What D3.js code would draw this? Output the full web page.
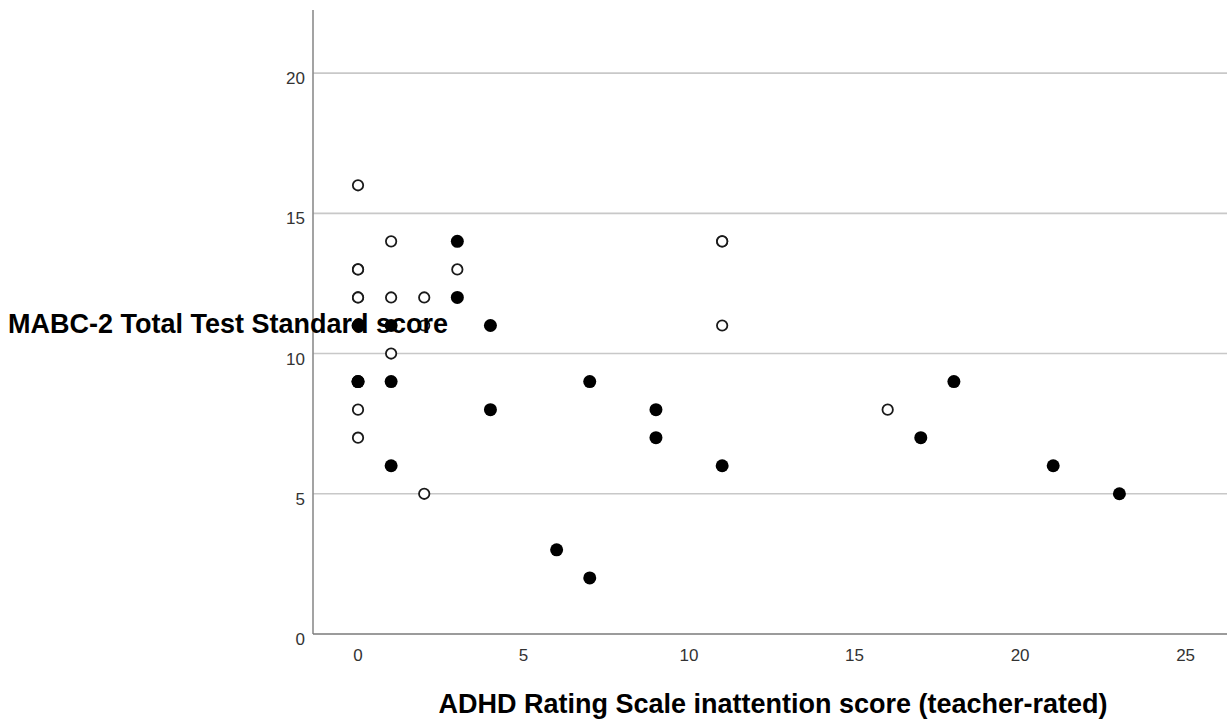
<!DOCTYPE html>
<html>
<head>
<meta charset="utf-8">
<script src="https://cdn.jsdelivr.net/npm/d3@7"></script>
<style>
  body { margin: 0; background: #fff; }
  svg { font-family: "Liberation Sans", Arial, sans-serif; }
  .tick-label { font-size: 17px; fill: #333; }
  .axis-title { font-size: 27px; font-weight: bold; fill: #000; }
</style>
</head>
<body>
<svg class="chart" width="1227" height="722"></svg>
<script>
// inattention score (teacher-rated), MABC-2 score, group (1 = filled, 0 = open)
const inattention = [0, 0, 0, 0, 0, 0, 0, 0, 0, 0,
  1, 1, 1, 1, 1, 1,
  2, 2, 2,
  3, 3, 3,
  4, 4, 6, 7, 7, 9, 9,
  11, 11, 11, 11, 16, 17, 18, 21, 23]
const mabc = [16, 13, 13, 12, 12, 11, 9, 8, 7, 9,
  14, 12, 11, 10, 9, 6,
  12, 11, 5,
  14, 13, 12,
  11, 8, 3, 9, 2, 8, 7,
  14, 14, 11, 6, 8, 7, 9, 6, 5]
const filled = [0, 0, 0, 0, 0, 1, 1, 0, 0, 1,
  0, 0, 1, 0, 1, 1,
  0, 0, 0,
  1, 0, 1,
  1, 1, 1, 1, 1, 1, 1,
  0, 0, 0, 1, 0, 1, 1, 1, 1]

const xTicks = [0, 5, 10, 15, 20, 25]
const yTicks = [0, 5, 10, 15, 20]

const points = inattention.map((d, i) => ({ x: d, y: mabc[i], f: filled[i] }))

const svg = d3.select("svg.chart")

const x = d3.scaleLinear().domain([-1.36, 26.25]).range([313, 1227])
const y = d3.scaleLinear().domain([0, 22.25]).range([634, 10])

// grid lines
svg.append("g")
  .selectAll("line")
  .data(yTicks.filter(d => d > 0))
  .enter()
  .append("line")
  .attr("x1", 313)
  .attr("x2", 1227)
  .attr("y1", d => y(d))
  .attr("y2", d => y(d))
  .attr("stroke", "#c8c8c8")
  .attr("stroke-width", 1.6)

// axis lines
svg.append("line")
  .attr("x1", 313).attr("x2", 313)
  .attr("y1", y.range()[1]).attr("y2", 634)
  .attr("stroke", "#8c8c8c").attr("stroke-width", 1.6)
svg.append("line")
  .attr("x1", 313).attr("x2", 1227)
  .attr("y1", 634).attr("y2", 634)
  .attr("stroke", "#7a7a7a").attr("stroke-width", 1.6)

// tick labels
svg.append("g")
  .selectAll("text")
  .data(yTicks)
  .enter()
  .append("text")
  .attr("class", "tick-label")
  .attr("x", 305)
  .attr("y", d => y(d) + 11)
  .attr("text-anchor", "end")
  .text(d => d)

svg.append("g")
  .selectAll("text")
  .data(xTicks)
  .enter()
  .append("text")
  .attr("class", "tick-label")
  .attr("x", d => x(d))
  .attr("y", 661)
  .attr("text-anchor", "middle")
  .text(d => d)

// markers
svg.append("g")
  .selectAll("circle")
  .data(points)
  .enter()
  .append("circle")
  .attr("cx", d => x(d.x))
  .attr("cy", d => y(d.y))
  .attr("r", d => d.f ? 6.5 : 5.2)
  .attr("fill", d => d.f ? "#000" : "#fff")
  .attr("stroke", d => d.f ? "none" : "#1a1a1a")
  .attr("stroke-width", 1.8)

// titles (the y title sits over the plot, as in the original)
svg.append("text")
  .attr("class", "axis-title")
  .attr("x", 8)
  .attr("y", 333)
  .text("MABC-2 Total Test Standard score")

svg.append("text")
  .attr("class", "axis-title")
  .attr("x", 773)
  .attr("y", 713)
  .attr("text-anchor", "middle")
  .text("ADHD Rating Scale inattention score (teacher-rated)")
</script>
</body>
</html>
